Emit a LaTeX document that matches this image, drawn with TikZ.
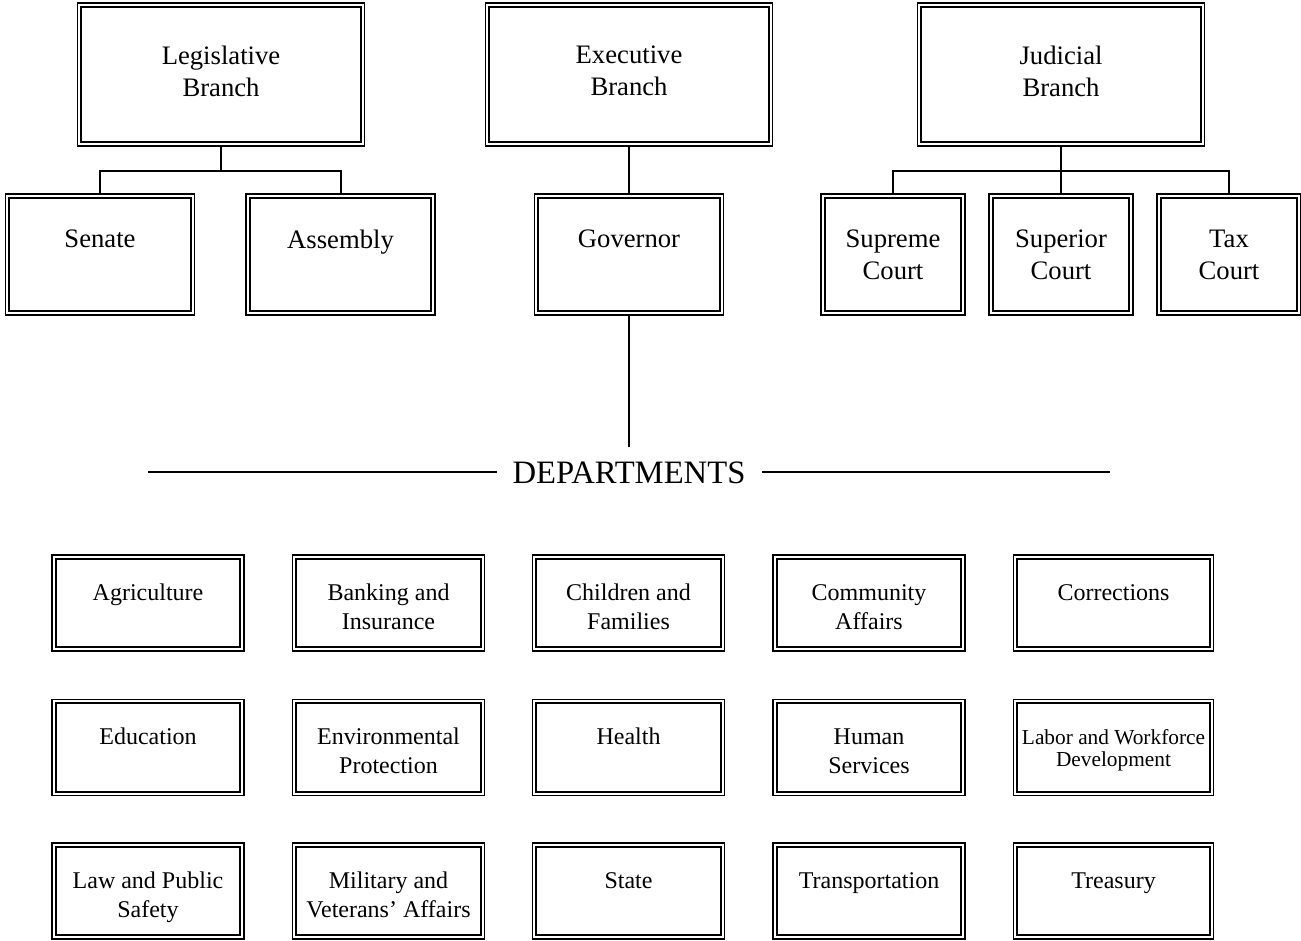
\documentclass[tikz,border=0pt]{standalone}
\usepackage{fontspec}
\setmainfont{Liberation Serif}
\newcommand\innerframe[1]{\draw[line width=1.7pt] ([shift={(4.5,4.5)}]#1.north west) rectangle ([shift={(-4.5,-4.5)}]#1.south east);}
\begin{document}
\begin{tikzpicture}[x=0.75pt,y=-0.75pt,
  box/.style={draw, rectangle, line width=1.1pt, inner sep=0pt},
  topbox/.style={box, minimum width=0.75pt*287, minimum height=0.75pt*143},
  midbox/.style={box, minimum width=0.75pt*189, minimum height=0.75pt*121},
  courtbox/.style={box, minimum width=0.75pt*144, minimum height=0.75pt*121},
  deptbox/.style={box, minimum width=0.75pt*192, minimum height=0.75pt*96},
  widebox/.style={box, minimum width=0.75pt*200, minimum height=0.75pt*96},
  conn/.style={line width=1.5pt},
  bigtxt/.style={font=\fontsize{20}{24}\selectfont, align=center, inner sep=0pt, anchor=north},
  dtxt/.style={font=\fontsize{18}{21.75}\selectfont, align=center, inner sep=0pt, anchor=north},
  stxt/.style={font=\fontsize{16}{16.5}\selectfont, align=center, inner sep=0pt, anchor=north},
  headtxt/.style={font=\fontsize{24.5}{28}\selectfont, inner sep=0pt}
]
\useasboundingbox (0,0) rectangle (1301,940);

% top tier
\node[topbox] (leg) at (221,74.5) {};
\node[topbox] (exe) at (629,74.5) {};
\node[topbox] (jud) at (1061,74.5) {};
\node[bigtxt] (legt) at (221,46) {Legislative\\Branch};
\node[bigtxt] (exet) at (629,46) {Executive\\Branch};
\node[bigtxt] (judt) at (1061,46) {Judicial\\Branch};

% middle tier
\node[midbox] (sen) at (100,254.5) {};
\node[midbox] (asm) at (340.5,254.5) {};
\node[midbox] (gov) at (629,254.5) {};
\node[courtbox] (spr) at (893,254.5) {};
\node[courtbox] (sup) at (1061,254.5) {};
\node[courtbox] (tax) at (1229,254.5) {};
\node[bigtxt] (sent) at (100,230) {Senate};
\node[bigtxt] (asmt) at (340.5,230) {Assembly};
\node[bigtxt] (govt) at (629,230) {Governor};
\node[bigtxt] (sprt) at (893,230) {Supreme\\Court};
\node[bigtxt] (supt) at (1061,230) {Superior\\Court};
\node[bigtxt] (taxt) at (1229,230) {Tax\\Court};

\foreach \n in {leg,exe,jud,sen,asm,gov,spr,sup,tax} {\innerframe{\n}}

% connectors
\draw[conn] (leg.south) -- ++(0,24) coordinate (lj);
\draw[conn] (sen.north) |- (lj) -| (asm.north);
\draw[conn] (jud.south) -- (sup.north);
\draw[conn] (jud.south) ++(0,24) coordinate (jj);
\draw[conn] (spr.north) |- (jj) -| (tax.north);
\draw[conn] (exe.south) -- (gov.north);
\coordinate (gend) at (629,447);
\draw[conn] (gov.south) -- (gend);

% departments heading
\node[headtxt] (dept) at (629,473) {DEPARTMENTS};
\coordinate (dl1) at (148,472);
\coordinate (dl2) at (497,472);
\coordinate (dr1) at (762,472);
\coordinate (dr2) at (1110,472);
\draw[conn] (dl1) -- (dl2);
\draw[conn] (dr1) -- (dr2);

% department boxes
\node[deptbox] (d11) at (148,603) {};
\node[deptbox] (d12) at (388.5,603) {};
\node[deptbox] (d13) at (628.5,603) {};
\node[deptbox] (d14) at (869,603) {};
\node[widebox] (d15) at (1113.5,603) {};
\node[deptbox] (d21) at (148,747.5) {};
\node[deptbox] (d22) at (388.5,747.5) {};
\node[deptbox] (d23) at (628.5,747.5) {};
\node[deptbox] (d24) at (869,747.5) {};
\node[widebox] (d25) at (1113.5,747.5) {};
\node[deptbox] (d31) at (148,891) {};
\node[deptbox] (d32) at (388.5,891) {};
\node[deptbox] (d33) at (628.5,891) {};
\node[deptbox] (d34) at (869,891) {};
\node[widebox] (d35) at (1113.5,891) {};
\foreach \n in {d11,d12,d13,d14,d15,d21,d22,d23,d24,d25,d31,d32,d33,d34,d35} {\innerframe{\n}}

\node[dtxt] (t11) at (148,584) {Agriculture};
\node[dtxt] (t12) at (388.5,584) {Banking and\\Insurance};
\node[dtxt] (t13) at (628.5,584) {Children and\\Families};
\node[dtxt] (t14) at (869,584) {Community\\Affairs};
\node[dtxt] (t15) at (1113.5,584) {Corrections};
\node[dtxt] (t21) at (148,728) {Education};
\node[dtxt] (t22) at (388.5,728) {Environmental\\Protection};
\node[dtxt] (t23) at (628.5,728) {Health};
\node[dtxt] (t24) at (869,728) {Human\\Services};
\node[stxt] (t25) at (1113.5,729) {Labor and Workforce\\Development};
\node[dtxt] (t31) at (148,872) {Law and Public\\Safety};
\node[dtxt] (t32) at (388.5,872) {Military and\\Veterans’ Affairs};
\node[dtxt] (t33) at (628.5,872) {State};
\node[dtxt] (t34) at (869,872) {Transportation};
\node[dtxt] (t35) at (1113.5,872) {Treasury};
\end{tikzpicture}
\end{document}
